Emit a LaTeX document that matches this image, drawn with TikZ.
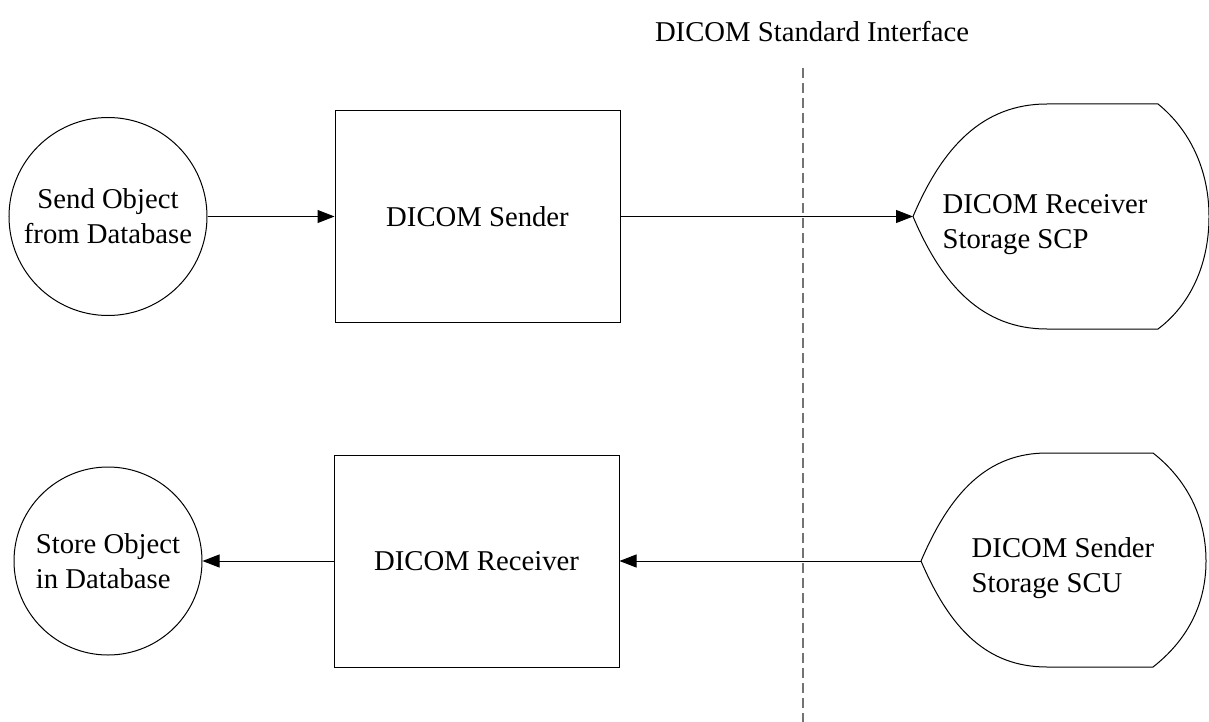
\documentclass[tikz,border=0pt]{standalone}
\usepackage{fontspec}
\setmainfont{Liberation Serif}
\usetikzlibrary{arrows.meta}
\tikzset{
  box/.style={draw, line width=1pt, minimum width=285, minimum height=212},
  bubble/.style={draw, circle, line width=1pt, align=center, inner sep=0pt},
  flow/.style={line width=1pt, -{Triangle[length=17pt, width=13pt]}},
  border/.style={line width=1.5pt, color=black!55, dash pattern=on 10pt off 5pt},
}

\begin{document}
\begin{tikzpicture}[x=1pt, y=-1pt, font=\fontsize{28.7}{35}\selectfont]
			%%%%% START %%%%%
			\useasboundingbox (0, 0) rectangle (1209, 722);
			
			\node (iface) at (812, 32) {DICOM Standard Interface};
			\coordinate (ifacetop) at (803, 68);
			\coordinate (ifacebot) at (803, 722);
			\draw[border] (ifacetop) -- (ifacebot);
			
			\node[bubble, minimum size=198] (sendobj) at (108, 216.5) {Send Object\\from Database};
			\node[bubble, minimum size=188, align=left] (storeobj) at (108, 561) {Store Object\\in Database};
			
			\node[box] (sender) at (477.5, 216.5) {DICOM Sender};
			\node[box] (receiver) at (476.5, 561) {DICOM Receiver};
			
			% display shapes on the far side
			\node[align=left] (scp) at (1045, 225) {DICOM Receiver\\Storage SCP};
			\coordinate (scpin) at (913, 216.5);
			\draw[line width=1pt] (scpin) .. controls (942, 148) and (982, 104) .. (1047, 104) -- (1158, 104)
			  .. controls (1190, 130) and (1209, 170) .. (1209, 216.5)
			  .. controls (1209, 265) and (1190, 305) .. (1158, 329) -- (1047, 329)
			  .. controls (982, 329) and (942, 285) .. (scpin);
			
			\node[align=left] (scu) at (1063, 568) {DICOM Sender\\Storage SCU};
			\coordinate (scuout) at (921, 561);
			\draw[line width=1pt] (scuout) .. controls (950, 493) and (987, 453) .. (1047, 453) -- (1153, 453)
			  .. controls (1185, 478) and (1206, 515) .. (1206, 561)
			  .. controls (1206, 607) and (1185, 642) .. (1153, 667) -- (1047, 667)
			  .. controls (987, 667) and (950, 629) .. (scuout);
			
			\draw[flow] (sendobj) -- (sender);
			\draw[flow] (sender.east) -- (scpin);
			\draw[flow] (scuout) -- (receiver.east);
			\draw[flow] (receiver) -- (storeobj);
			
			%%%%% END %%%%%
\end{tikzpicture}
\end{document}
